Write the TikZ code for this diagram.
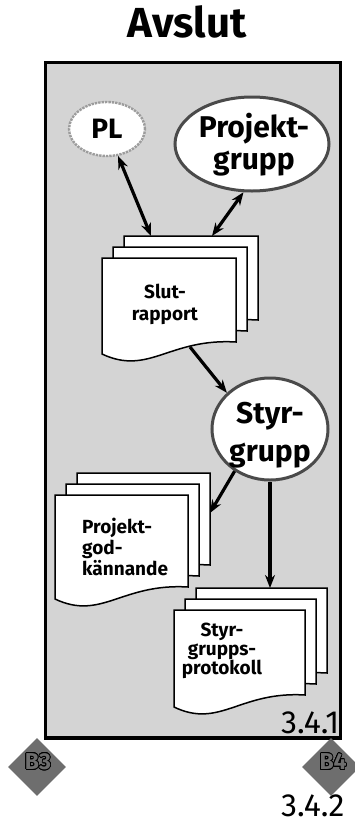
\documentclass[tikz,border=0pt]{standalone}
\usepackage{fontspec}
\setmainfont{Fira Sans}
\usepackage{contour}
\contourlength{0.8pt}
\usetikzlibrary{arrows.meta,shapes.geometric}

\definecolor{panelgrey}{HTML}{D4D4D4}
\definecolor{ringgrey}{HTML}{4A4A4A}
\definecolor{softring}{HTML}{9C9C9C}
\definecolor{tokengrey}{HTML}{6E6E6E}

\tikzset{
  sheetline/.style={draw=black, line width=1.5pt, fill=white, line join=miter},
  % one page of a document stack: flat top, wavy bottom edge
  sheet/.pic={\path[sheetline] (0,0) -- (\sw,0) -- (\sw,\sh)
      .. controls (0.5*\sw,\sh-4) and (0.35*\sw,\sh+34) .. (0,\sh+12) -- cycle;},
  frame/.style={draw=black, line width=3.8pt, fill=panelgrey, rectangle, inner sep=0pt},
  role/.style={ellipse, fill=white, inner sep=0pt},
  bigrole/.style={role, draw=ringgrey, line width=3pt},
  softrole/.style={role, draw=softring, line width=2.4pt, densely dotted},
  rolelabel/.style={font=\bfseries\fontsize{30}{32}\selectfont, align=center, inner sep=0pt},
  doclabel/.style={font=\bfseries\fontsize{19}{22}\selectfont, inner sep=0pt},
  flow/.style={line width=3.2pt, -{Stealth[length=13pt,width=10pt]}},
  twoway/.style={line width=3.2pt, {Stealth[length=13pt,width=10pt]}-{Stealth[length=13pt,width=10pt]}},
  token/.style={diamond, fill=tokengrey, minimum width=58pt, minimum height=58pt, inner sep=0pt},
  tokenlabel/.style={inner sep=0pt},
  numlabel/.style={font=\fontsize{32}{34}\selectfont, inner sep=0pt},
}

% outlined grey lettering for the sheet links
\newcommand\tokentext[1]{\contour{black}{\fontsize{23}{26}\selectfont\bfseries\textcolor{tokengrey}{#1}}}

% three stacked pages: x, y of the front page, width, height of the right edge
\newcommand\docstack[4]{%
  \def\sw{#3}\def\sh{#4}%
  \pic at ({#1+22},{#2-22}) {sheet};
  \pic at ({#1+11},{#2-11}) {sheet};
  \pic at (#1,#2) {sheet};
}

\begin{document}
\begin{tikzpicture}[x=1pt, y=-1pt]
  \useasboundingbox (0,0) rectangle (355,823);

  \node[font=\bfseries\fontsize{42}{44}\selectfont, anchor=base, inner sep=0pt] (title) at (187,37) {Avslut};

  \node[frame, minimum width=295pt, minimum height=675.5pt, anchor=north west] (panel) at (43.5,60.5) {};

  % roles
  \node[softrole, minimum width=76pt, minimum height=54pt] (pl) at (107,129) {};
  \node[font=\bfseries\fontsize{28}{30}\selectfont, inner sep=0pt] (pltext) at (107,129) {PL};

  \node[bigrole, minimum width=154pt, minimum height=94pt] (pg) at (252,144) {};
  \node[rolelabel] (pgtext) at (254,145) {Projekt-\\grupp};

  \node[bigrole, minimum width=116pt, minimum height=102pt] (sg) at (270,429) {};
  \node[rolelabel, font=\bfseries\fontsize{30}{38}\selectfont] (sgtext) at (270,435) {Styr-\\grupp};

  % documents
  \docstack{102}{258}{134}{84}
  \node[doclabel, align=center] (slut) at (165,304) {Slut-\\rapport};
  \coordinate (slutA) at (151,236);
  \coordinate (slutB) at (212,236);
  \coordinate (slutOut) at (190,347);

  \docstack{55}{495}{133}{92}
  \node[doclabel, align=left, anchor=west, font=\bfseries\fontsize{19}{21}\selectfont] (god) at (82,547) {Projekt-\\god-\\kännande};
  \coordinate (godIn) at (210,513);

  \docstack{174}{610}{131}{85}
  \node[doclabel, align=center, font=\bfseries\fontsize{19}{19}\selectfont] (prot) at (222,651) {Styr-\\grupps-\\protokoll};
  \coordinate (protIn) at (270,588);

  % connectors
  \draw[twoway] (pl) -- (slutA);
  \draw[twoway] (pg.-100) -- (slutB);
  \draw[flow] (slutOut) -- (sg.140);
  \draw[flow] (sg.-130) -- (godIn);
  \draw[flow] (sg.south) -- (protIn);

  \node[numlabel, anchor=base west] (num1) at (281,733) {3.4.1};

  % links to neighbouring sheets
  \node[token] (b3) at (37,767) {};
  \node[tokenlabel] (b3text) at (38,762) {\tokentext{B3}};
  \node[token] (b4) at (331,767) {};
  \node[tokenlabel] (b4text) at (333,762) {\tokentext{B4}};

  \node[numlabel, anchor=base west] (num2) at (281,816) {3.4.2};
\end{tikzpicture}
\end{document}
